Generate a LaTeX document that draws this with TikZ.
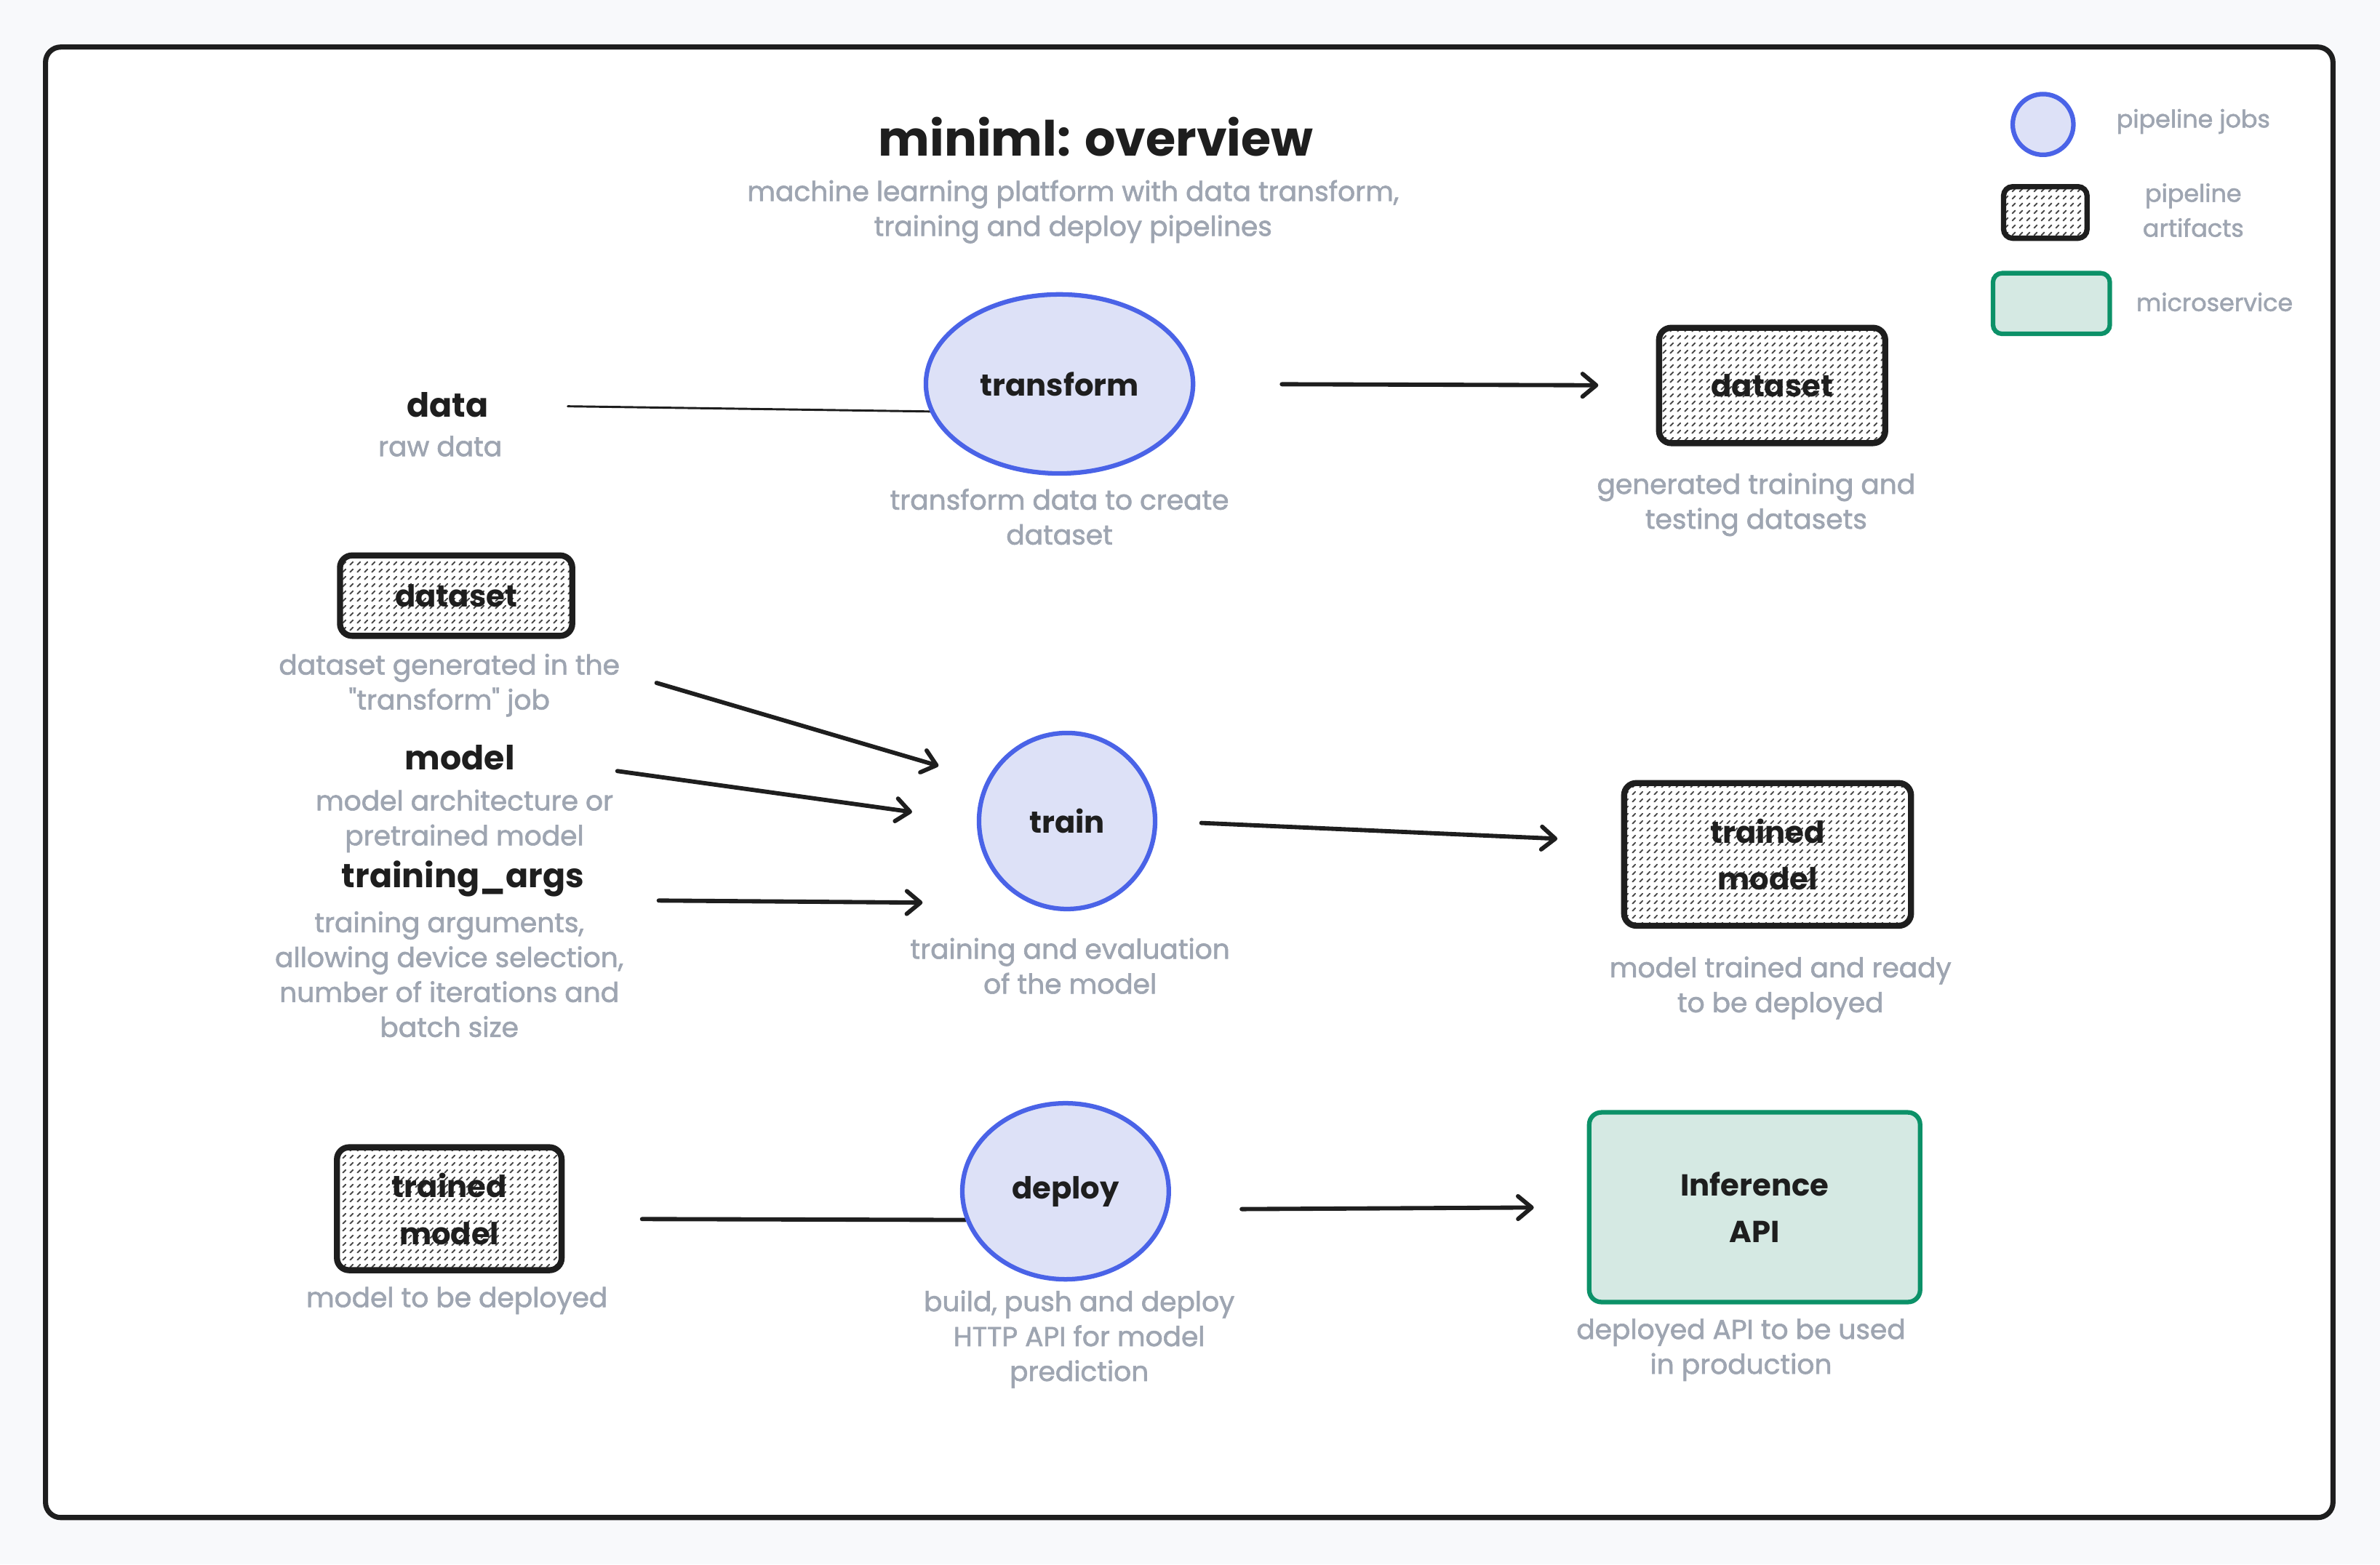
\documentclass[tikz,border=0pt]{standalone}
\usepackage{fontspec}
\setmainfont{Poppins}
\newfontfamily\notefont{Poppins}[FakeBold=1.6]
\usepackage{xcolor}
\usepackage{tikz}
\usetikzlibrary{shapes.geometric,arrows.meta,patterns}
\definecolor{ink}{HTML}{1E1E1E}
\definecolor{mute}{HTML}{9EA5B1}
\definecolor{paper}{HTML}{F8F9FB}
\definecolor{jobline}{HTML}{4A63E7}
\definecolor{jobfill}{HTML}{DDE1F7}
\definecolor{svcline}{HTML}{0C9168}
\definecolor{svcfill}{HTML}{D5E9E3}
\definecolor{hatchgray}{HTML}{4A4A4A}
\pgfdeclarepatternformonly{dash hatch}{\pgfpointorigin}{\pgfpoint{5pt}{5pt}}{\pgfpoint{5pt}{5pt}}{%
  \pgfsetlinewidth{0.9pt}\pgfsetroundcap
  \pgfpathmoveto{\pgfpoint{1.2pt}{1.2pt}}\pgfpathlineto{\pgfpoint{3.2pt}{3.2pt}}\pgfusepath{stroke}}
\tikzstyle{job}=[fill=jobfill, draw=jobline, line width=3pt, shape=ellipse, inner sep=0pt, text=ink, font=\fontsize{20}{30}\selectfont\bfseries]
\tikzstyle{artifact}=[preaction={fill=white}, pattern=dash hatch, pattern color=hatchgray, draw=ink, line width=4pt, rounded corners=8pt, shape=rectangle, inner sep=0pt, align=center, text=ink, font=\fontsize{20}{31}\selectfont\bfseries]
\tikzstyle{service}=[fill=svcfill, draw=svcline, line width=3pt, rounded corners=8pt, shape=rectangle, inner sep=0pt, align=center, text=ink, font=\fontsize{20}{31}\selectfont\bfseries]
\tikzstyle{term}=[text=ink, inner sep=2pt, font=\fontsize{22}{28}\selectfont\bfseries]
\tikzstyle{note}=[text=mute, inner sep=2pt, align=center, font=\notefont\fontsize{18}{23}\selectfont]
\tikzstyle{legend note}=[text=mute, inner sep=2pt, align=center, font=\notefont\fontsize{16}{23}\selectfont]
\tikzstyle{heading}=[text=ink, inner sep=2pt, font=\fontsize{32}{38}\selectfont\bfseries]
\tikzstyle{arrow edge}=[-{Straight Barb[round, length=9pt, width=15pt]}, draw=ink, line width=2.8pt, line cap=round]
\tikzstyle{plain edge}=[-, draw=ink, line width=2.8pt, line cap=round]
\pgfdeclarelayer{bglayer}
\pgfdeclarelayer{edgelayer}
\pgfdeclarelayer{nodelayer}
\pgfsetlayers{bglayer,edgelayer,nodelayer,main}
\begin{document}
\begin{tikzpicture}[x=1pt, y=-1pt]
	\begin{pgfonlayer}{bglayer}
		\fill [paper] (0, 0) rectangle (1568, 1031);
		\draw [draw=ink, fill=white, line width=3.4pt, rounded corners=10pt] (30, 31) rectangle (1537, 1000);
	\end{pgfonlayer}
	\begin{pgfonlayer}{nodelayer}
		% title and legend
		\node [style=heading] (0) at (722, 90) {miniml: overview};
		\node [style=note] (1) at (707, 139.5) {machine learning platform with data transform,\\training and deploy pipelines};
		\node [style=job, minimum size=40pt] (2) at (1346, 82) {};
		\node [style=legend note] (3) at (1445, 80) {pipeline jobs};
		\node [style=artifact, line width=3.5pt, minimum width=55pt, minimum height=34pt, rounded corners=6pt] (4) at (1347.5, 140) {};
		\node [style=legend note] (5) at (1445, 138.5) {pipeline\\artifacts};
		\node [style=service, minimum width=77pt, minimum height=40pt, rounded corners=6pt] (6) at (1351.5, 200) {};
		\node [style=legend note] (7) at (1459, 199) {microservice};
		% transform
		\node [style=term] (8) at (295, 267) {data};
		\node [style=note] (9) at (290, 294) {raw data};
		\node [style=job, minimum width=176pt, minimum height=118pt] (10) at (698, 253) {transform};
		\node [style=note] (11) at (698, 340.5) {transform data to create\\dataset};
		\node [style=artifact, minimum width=149pt, minimum height=76pt] (12) at (1167.5, 254) {dataset};
		\node [style=note] (13) at (1157, 332.5) {generated training and\\testing datasets};
		% train
		\node [style=artifact, minimum width=153pt, minimum height=53pt] (14) at (300.5, 392.5) {dataset};
		\node [style=note] (15) at (296, 451.5) {dataset generated in the\\\textquotedbl transform\textquotedbl\ job};
		\node [style=term] (16) at (303, 499) {model};
		\node [style=note] (17) at (306, 541) {model architecture or\\pretrained model};
		\node [style=term] (18) at (305, 579) {training\_args};
		\node [style=note] (19) at (296, 642) {training arguments,\\allowing device selection,\\number of iterations and\\batch size};
		\node [style=job, minimum size=116pt] (20) at (703, 541) {train};
		\node [style=note] (21) at (705, 636.5) {training and evaluation\\of the model};
		\node [style=artifact, minimum width=189pt, minimum height=94pt] (22) at (1164.5, 563) {trained\\model};
		\node [style=note] (23) at (1173, 651) {model trained and ready\\to be deployed};
		% deploy
		\node [style=artifact, minimum width=148pt, minimum height=81pt] (24) at (296, 796.5) {trained\\model};
		\node [style=note] (25) at (301, 857) {model to be deployed};
		\node [style=job, minimum width=136pt, minimum height=116pt] (26) at (702, 785) {deploy};
		\node [style=note] (27) at (711, 882.5) {build, push and deploy\\HTTP API for model\\prediction};
		\node [style=service, minimum width=218pt, minimum height=125pt] (28) at (1156, 795.5) {Inference\\API};
		\node [style=note] (29) at (1147, 889.5) {deployed API to be used\\in production};
	\end{pgfonlayer}
	\begin{pgfonlayer}{edgelayer}
		\draw [style=plain edge, line width=1.4pt, shorten <=50pt] (8.east) to (10.192);
		\draw [style=arrow edge, shorten <=57pt, shorten >=38pt] (10.east) to (12.west);
		\draw [style=arrow edge, shorten <=23pt, shorten >=33pt] ([yshift=8pt]15.east) to (20.153);
		\draw [style=arrow edge, shorten <=66pt, shorten >=43pt] (16.east) to (20.180);
		\draw [style=arrow edge, shorten <=47pt, shorten >=71pt] (18.south east) to (20.246);
		\draw [style=arrow edge, shorten <=29pt, shorten >=42pt] (20.east) to (22.175);
		\draw [style=plain edge, shorten <=51pt] (24.-5) to (26.196);
		\draw [style=arrow edge, shorten <=48pt, shorten >=35pt] (26.-10) to (28.west);
	\end{pgfonlayer}
\end{tikzpicture}
\end{document}
